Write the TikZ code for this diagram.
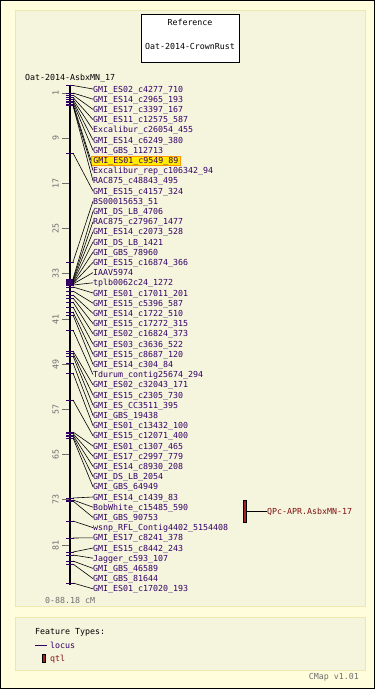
\documentclass[tikz,border=0pt]{standalone}
\usepackage{fontspec}
\setmonofont{DejaVu Sans Mono}
\usetikzlibrary{calc}

\definecolor{pageyel}{RGB}{255,253,220}
\definecolor{panelbg}{RGB}{245,245,222}
\definecolor{panelrim}{RGB}{236,232,176}
\definecolor{locuscol}{RGB}{51,0,102}
\definecolor{qtlcol}{RGB}{128,16,16}
\definecolor{qtlfill}{RGB}{160,36,36}
\definecolor{scalegray}{RGB}{110,110,110}
\definecolor{hiyel}{RGB}{255,236,0}
\definecolor{hiorange}{RGB}{255,150,0}

\tikzset{
  mfont/.style={font=\ttfamily\fontsize{8.3}{9}\selectfont},
  txt/.style={mfont, inner sep=0pt, text height=6pt, text depth=0pt},
  lbl/.style={txt, text=locuscol, anchor=west},
  hilite/.style={lbl, fill=hiyel, draw=hiorange, line width=0.8pt, inner xsep=2pt, inner ysep=1.5pt},
  panel/.style={fill=panelbg, draw=panelrim, line width=1pt},
  mtick/.style={locuscol, line width=0.8pt},
  conn/.style={black, line width=0.6pt},
  qtlbar/.style={fill=qtlfill, draw=black, line width=0.6pt, inner sep=0pt, minimum width=3.5pt, minimum height=22pt},
}

\begin{document}
\begin{tikzpicture}[x=1pt, y=-1pt]
  \useasboundingbox (0,0) rectangle (375,689);
  \draw[fill=pageyel, line width=1pt] (0.5,0.5) rectangle (374,688);

  % panels
  \draw[panel] (15,10) rectangle (365,606);
  \draw[panel] (15,617) rectangle (365,670);

  % reference box
  \node[draw=black, fill=white, line width=0.8pt, minimum width=98pt, minimum height=48pt] (ref) at (190.5,38.3) {};
  \node[txt] (reft) at (190,22.3) {Reference};
  \node[txt] (refm) at (190,46) {Oat-2014-CrownRust};

  \node[txt, anchor=west] (title) at (25,77.3) {Oat-2014-AsbxMN\_17};

  % axis
  \coordinate (top) at (70,85);
  \coordinate (bot) at (70,585);
  \draw[line width=2pt] (top) -- (bot);

  % scale
  \foreach \c in {1,9,...,81} {
    \draw[scalegray, line width=0.8pt] (62,87.35+5.65*\c) -- (69,87.35+5.65*\c);
    \node[txt, text=scalegray, rotate=90] at (55.5,87.35+5.65*\c) {\c};
  }

  % loci
  \node[lbl] (m1) at (93,89.0) {GMI\_ES02\_c4277\_710};
  \node[lbl] (m2) at (93,99.2) {GMI\_ES14\_c2965\_193};
  \node[lbl] (m3) at (93,109.4) {GMI\_ES17\_c3397\_167};
  \node[lbl] (m4) at (93,119.6) {GMI\_ES11\_c12575\_587};
  \node[lbl] (m5) at (93,129.8) {Excalibur\_c26054\_455};
  \node[lbl] (m6) at (93,140.0) {GMI\_ES14\_c6249\_380};
  \node[lbl] (m7) at (93,150.2) {GMI\_GBS\_112713};
  \node[hilite] (m8) at (91,160.4) {GMI\_ES01\_c9549\_89};
  \node[lbl] (m9) at (93,170.6) {Excalibur\_rep\_c106342\_94};
  \node[lbl] (m10) at (93,180.8) {RAC875\_c48843\_495};
  \node[lbl] (m11) at (93,191.0) {GMI\_ES15\_c4157\_324};
  \node[lbl] (m12) at (93,201.2) {BS00015653\_51};
  \node[lbl] (m13) at (93,211.4) {GMI\_DS\_LB\_4706};
  \node[lbl] (m14) at (93,221.6) {RAC875\_c27967\_1477};
  \node[lbl] (m15) at (93,231.8) {GMI\_ES14\_c2073\_528};
  \node[lbl] (m16) at (93,242.0) {GMI\_DS\_LB\_1421};
  \node[lbl] (m17) at (93,252.2) {GMI\_GBS\_78960};
  \node[lbl] (m18) at (93,262.4) {GMI\_ES15\_c16874\_366};
  \node[lbl] (m19) at (93,272.6) {IAAV5974};
  \node[lbl] (m20) at (93,282.8) {tplb0062c24\_1272};
  \node[lbl] (m21) at (93,293.0) {GMI\_ES01\_c17011\_201};
  \node[lbl] (m22) at (93,303.2) {GMI\_ES15\_c5396\_587};
  \node[lbl] (m23) at (93,313.4) {GMI\_ES14\_c1722\_510};
  \node[lbl] (m24) at (93,323.6) {GMI\_ES15\_c17272\_315};
  \node[lbl] (m25) at (93,333.8) {GMI\_ES02\_c16824\_373};
  \node[lbl] (m26) at (93,344.0) {GMI\_ES03\_c3636\_522};
  \node[lbl] (m27) at (93,354.2) {GMI\_ES15\_c8687\_120};
  \node[lbl] (m28) at (93,364.4) {GMI\_ES14\_c304\_84};
  \node[lbl] (m29) at (93,374.6) {Tdurum\_contig25674\_294};
  \node[lbl] (m30) at (93,384.8) {GMI\_ES02\_c32043\_171};
  \node[lbl] (m31) at (93,395.0) {GMI\_ES15\_c2305\_730};
  \node[lbl] (m32) at (93,405.2) {GMI\_ES\_CC3511\_395};
  \node[lbl] (m33) at (93,415.4) {GMI\_GBS\_19438};
  \node[lbl] (m34) at (93,425.6) {GMI\_ES01\_c13432\_100};
  \node[lbl] (m35) at (93,435.8) {GMI\_ES15\_c12071\_400};
  \node[lbl] (m36) at (93,446.0) {GMI\_ES01\_c1307\_465};
  \node[lbl] (m37) at (93,456.2) {GMI\_ES17\_c2997\_779};
  \node[lbl] (m38) at (93,466.4) {GMI\_ES14\_c8930\_208};
  \node[lbl] (m39) at (93,476.6) {GMI\_DS\_LB\_2054};
  \node[lbl] (m40) at (93,486.8) {GMI\_GBS\_64949};
  \node[lbl] (m41) at (93,497.0) {GMI\_ES14\_c1439\_83};
  \node[lbl] (m42) at (93,507.2) {BobWhite\_c15485\_590};
  \node[lbl] (m43) at (93,517.4) {GMI\_GBS\_90753};
  \node[lbl] (m44) at (93,527.6) {wsnp\_RFL\_Contig4402\_5154408};
  \node[lbl] (m45) at (93,537.8) {GMI\_ES17\_c8241\_378};
  \node[lbl] (m46) at (93,548.0) {GMI\_ES15\_c8442\_243};
  \node[lbl] (m47) at (93,558.2) {Jagger\_c593\_107};
  \node[lbl] (m48) at (93,568.4) {GMI\_GBS\_46589};
  \node[lbl] (m49) at (93,578.6) {GMI\_GBS\_81644};
  \node[lbl] (m50) at (93,588.8) {GMI\_ES01\_c17020\_193};

  % positions on the axis
  \foreach \i/\y in {1/85.5, 2/93, 3/95, 4/97.5, 5/99.5, 6/101, 7/102.5, 8/104, 9/105.5, 10/105.5,
      11/153, 12/262, 13/279, 14/280, 15/281, 16/282, 17/283, 18/283.5, 19/284, 20/285,
      21/287, 22/291, 23/295, 24/298, 25/302, 26/307, 27/312, 28/315, 29/330, 30/351,
      31/353.5, 32/356, 33/363, 34/373, 35/400, 36/432, 37/433.5, 38/435, 39/436.5, 40/438,
      41/498, 42/500, 43/501, 44/521, 45/538, 46/552, 47/555, 48/561, 49/564, 50/583}
    \coordinate (p\i) at (70,\y);

  \foreach \i in {1,...,50} {
    \draw[mtick] (p\i) ++(-4,0) -- ++(8,0);
    \draw[conn] (p\i) ++(3,0) -- (m\i.west);
  }

  % qtl
  \node[qtlbar] (q1) at (245,511) {};
  \node[txt, text=qtlcol, anchor=west] (ql1) at (267,511) {QPc-APR.AsbxMN-17};
  \draw[conn] (q1.east) -- (ql1.west);

  \node[txt, text=scalegray, anchor=west] (range) at (45,600.5) {0-88.18 cM};

  % legend
  \node[txt, anchor=west] (ft) at (35,631) {Feature Types:};
  \node[txt, text=locuscol, anchor=west] (lgl) at (50,645) {locus};
  \draw[locuscol, line width=1pt] (35,645) -- (47,645);
  \node[qtlbar, minimum width=2.8pt, minimum height=8pt] (lgb) at (44,658) {};
  \node[txt, text=qtlcol, anchor=west] (lgq) at (50,658) {qtl};

  \node[txt, text=scalegray, anchor=east] (ver) at (359,676) {CMap v1.01};
\end{tikzpicture}
\end{document}
